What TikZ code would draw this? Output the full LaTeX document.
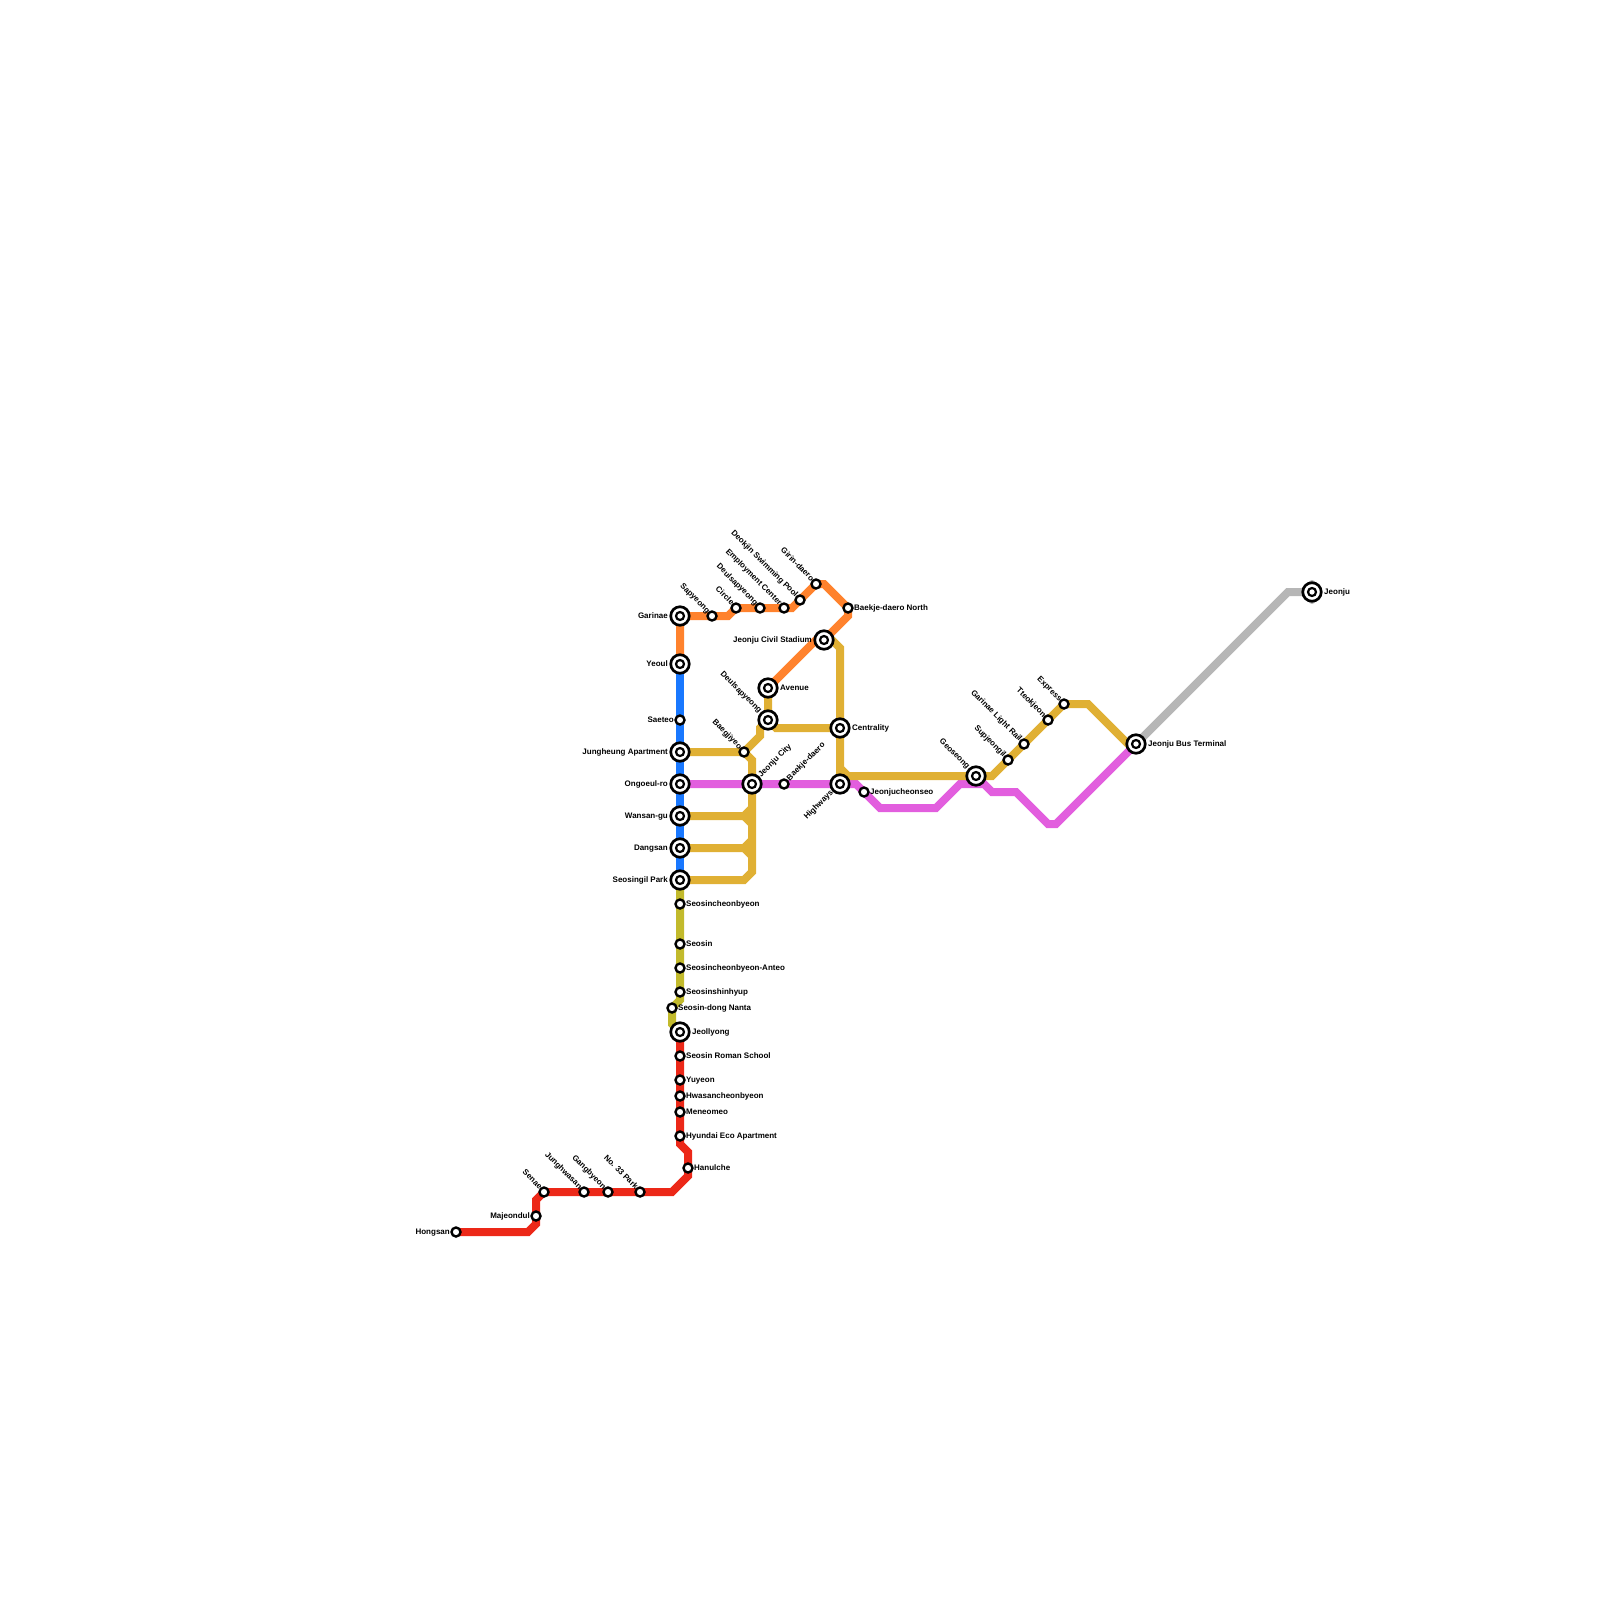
\documentclass[tikz,border=0pt]{standalone}
\usepackage{fontspec}
\setmainfont{Liberation Sans}
\definecolor{lineorange}{RGB}{255, 130, 45}
\definecolor{lineblue}{RGB}{25, 120, 255}
\definecolor{linegold}{RGB}{224, 176, 52}
\definecolor{linepink}{RGB}{226, 94, 222}
\definecolor{lineolive}{RGB}{194, 186, 44}
\definecolor{linered}{RGB}{236, 40, 24}
\definecolor{linegrey}{RGB}{182, 182, 182}
\usetikzlibrary{backgrounds}

\begin{document}
\begin{tikzpicture}[
    x=1pt, y=-1pt,
    every node/.append style={font=\fontsize{8}{9}\selectfont\bfseries},
  ]

  \tikzset{
    metro/.style={line width=8pt, miter limit=10},
    stn-small/.style={
      circle, draw=black, fill=white, line width=2.4pt,
      minimum size=9pt, inner sep=0pt,
    },
    stn-big/.style={
      circle, draw=black, fill=white, line width=2.7pt,
      minimum size=18.5pt, inner sep=0pt,
      path picture={
        \draw[black, line width=2.2pt] (path picture bounding box.center) circle (4pt);
      },
    },
    lbl/.style={inner sep=0pt, text height=6pt, text depth=0pt, text=black},
    lbl-r/.style={lbl, anchor=west, xshift=#1, yshift=1pt},
    lbl-r/.default=6pt,
    lbl-l/.style={lbl, anchor=east, xshift=-#1, yshift=1pt},
    lbl-l/.default=6pt,
    lbl-nw/.style={lbl, anchor=east, rotate=-45, xshift=-#1, yshift=1.2pt},
    lbl-nw/.default=5.2pt,
    lbl-ne/.style={lbl, anchor=west, rotate=45, xshift=#1, yshift=1pt},
    lbl-ne/.default=6pt,
    lbl-sw/.style={lbl, anchor=east, rotate=45, xshift=-#1, yshift=1pt},
    lbl-sw/.default=6pt,
  }

  \useasboundingbox (0,0) rectangle (1600,1600);

  %% ---------------- STATIONS ----------------
  % west trunk
  \node[stn-big] (garinae) at (680,616) {};
  \node[stn-big] (yeoul) at (680,664) {};
  \node[stn-small] (saeteo) at (680,720) {};
  \node[stn-big] (jungheung) at (680,752) {};
  \node[stn-big] (ongoeul) at (680,784) {};
  \node[stn-big] (wansan) at (680,816) {};
  \node[stn-big] (dangsan) at (680,848) {};
  \node[stn-big] (seosingil) at (680,880) {};
  \node[stn-small] (seosincheon) at (680,904) {};
  \node[stn-small] (seosin) at (680,944) {};
  \node[stn-small] (anteo) at (680,968) {};
  \node[stn-small] (shinhyup) at (680,992) {};
  \node[stn-small] (nanta) at (672,1008) {};
  \node[stn-big] (jeollyong) at (680,1032) {};
  \node[stn-small] (roman) at (680,1056) {};
  \node[stn-small] (yuyeon) at (680,1080) {};
  \node[stn-small] (hwasan) at (680,1096) {};
  \node[stn-small] (meneomeo) at (680,1112) {};
  \node[stn-small] (hyundai) at (680,1136) {};
  \node[stn-small] (hanulche) at (688,1168) {};
  % south-west branch
  \node[stn-small] (park33) at (640,1192) {};
  \node[stn-small] (gangbyeon) at (608,1192) {};
  \node[stn-small] (junghwasan) at (584,1192) {};
  \node[stn-small] (senae) at (544,1192) {};
  \node[stn-small] (majeondul) at (536,1216) {};
  \node[stn-small] (hongsan) at (456,1232) {};
  % north loop
  \node[stn-small] (sapyeong) at (712,616) {};
  \node[stn-small] (circle) at (736,608) {};
  \node[stn-small] (deulsa-n) at (760,608) {};
  \node[stn-small] (employment) at (784,608) {};
  \node[stn-small] (deokjin) at (800,600) {};
  \node[stn-small] (girin) at (816,584) {};
  \node[stn-small] (baekje-n) at (848,608) {};
  \node[stn-big] (stadium) at (824,640) {};
  \node[stn-big] (avenue) at (768,688) {};
  \node[stn-big] (deulsa-s) at (768,720) {};
  \node[stn-big] (centrality) at (840,728) {};
  \node[stn-small] (baegjiyeo) at (744,752) {};
  \node[stn-big] (jeonjucity) at (752,784) {};
  \node[stn-small] (baekje) at (784,784) {};
  \node[stn-big] (highways) at (840,784) {};
  % east side
  \node[stn-small] (jeonjucheon) at (864,792) {};
  \node[stn-big] (geoseong) at (976,776) {};
  \node[stn-small] (supjeongil) at (1008,760) {};
  \node[stn-small] (lightrail) at (1024,744) {};
  \node[stn-small] (tteokjeon) at (1048,720) {};
  \node[stn-small] (express) at (1064,704) {};
  \node[stn-big] (terminal) at (1136,744) {};
  \node[stn-big] (jeonju) at (1312,592) {};

  %% ---------------- LABELS ----------------
  \node[lbl-l=12pt] (garinae-l) at (garinae) {Garinae};
  \node[lbl-l=12pt] (yeoul-l) at (yeoul) {Yeoul};
  \node[lbl-l] (saeteo-l) at (saeteo) {Saeteo};
  \node[lbl-l=12pt] (jungheung-l) at (jungheung) {Jungheung Apartment};
  \node[lbl-l=12pt] (ongoeul-l) at (ongoeul) {Ongoeul-ro};
  \node[lbl-l=12pt] (wansan-l) at (wansan) {Wansan-gu};
  \node[lbl-l=12pt] (dangsan-l) at (dangsan) {Dangsan};
  \node[lbl-l=12pt] (seosingil-l) at (seosingil) {Seosingil Park};
  \node[lbl-r] (seosincheon-l) at (seosincheon) {Seosincheonbyeon};
  \node[lbl-r] (seosin-l) at (seosin) {Seosin};
  \node[lbl-r] (anteo-l) at (anteo) {Seosincheonbyeon-Anteo};
  \node[lbl-r] (shinhyup-l) at (shinhyup) {Seosinshinhyup};
  \node[lbl-r] (nanta-l) at (nanta) {Seosin-dong Nanta};
  \node[lbl-r=12pt] (jeollyong-l) at (jeollyong) {Jeollyong};
  \node[lbl-r] (roman-l) at (roman) {Seosin Roman School};
  \node[lbl-r] (yuyeon-l) at (yuyeon) {Yuyeon};
  \node[lbl-r] (hwasan-l) at (hwasan) {Hwasancheonbyeon};
  \node[lbl-r] (meneomeo-l) at (meneomeo) {Meneomeo};
  \node[lbl-r] (hyundai-l) at (hyundai) {Hyundai Eco Apartment};
  \node[lbl-r] (hanulche-l) at (hanulche) {Hanulche};
  \node[lbl-nw] (park33-l) at (park33) {No. 33 Park};
  \node[lbl-nw] (gangbyeon-l) at (gangbyeon) {Gangbyeon};
  \node[lbl-nw] (junghwasan-l) at (junghwasan) {Junghwasan};
  \node[lbl-nw] (senae-l) at (senae) {Senae};
  \node[lbl-l] (majeondul-l) at (majeondul) {Majeondul};
  \node[lbl-l] (hongsan-l) at (hongsan) {Hongsan};
  \node[lbl-nw] (sapyeong-l) at (sapyeong) {Sapyeong};
  \node[lbl-nw] (circle-l) at (circle) {Circle};
  \node[lbl-nw] (deulsa-n-l) at (deulsa-n) {Deulsapyeong};
  \node[lbl-nw] (employment-l) at (employment) {Employment Center};
  \node[lbl-nw] (deokjin-l) at (deokjin) {Deokjin Swimming Pool};
  \node[lbl-nw] (girin-l) at (girin) {Girin-daero};
  \node[lbl-r] (baekje-n-l) at (baekje-n) {Baekje-daero North};
  \node[lbl-l=12pt] (stadium-l) at (stadium) {Jeonju Civil Stadium};
  \node[lbl-r=12pt] (avenue-l) at (avenue) {Avenue};
  \node[lbl-nw=11pt] (deulsa-s-l) at (deulsa-s) {Deulsapyeong};
  \node[lbl-r=12pt] (centrality-l) at (centrality) {Centrality};
  \node[lbl-nw] (baegjiyeo-l) at (baegjiyeo) {Baegjiyeo};
  \node[lbl-ne=11pt] (jeonjucity-l) at (jeonjucity) {Jeonju City};
  \node[lbl-ne] (baekje-l) at (baekje) {Baekje-daero};
  \node[lbl-sw=11pt] (highways-l) at (highways) {Highways};
  \node[lbl-r] (jeonjucheon-l) at (jeonjucheon) {Jeonjucheonseo};
  \node[lbl-nw=11pt] (geoseong-l) at (geoseong) {Geoseong};
  \node[lbl-nw] (supjeongil-l) at (supjeongil) {Supjeongil};
  \node[lbl-nw] (lightrail-l) at (lightrail) {Garinae Light Rail};
  \node[lbl-nw] (tteokjeon-l) at (tteokjeon) {Tteokjeon};
  \node[lbl-nw] (express-l) at (express) {Express};
  \node[lbl-r=12pt] (terminal-l) at (terminal) {Jeonju Bus Terminal};
  \node[lbl-r=12pt] (jeonju-l) at (jeonju) {Jeonju};

  %% ---------------- BENDS ----------------
  \coordinate (or-a) at (728,616);
  \coordinate (or-b) at (736,608);
  \coordinate (or-c) at (792,608);
  \coordinate (or-d) at (816,584);
  \coordinate (or-e) at (824,584);
  \coordinate (or-f) at (848,616);
  \coordinate (or-g) at (816,640);
  \coordinate (ol-a) at (680,1000);
  \coordinate (ol-b) at (672,1024);
  \coordinate (re-a) at (680,1144);
  \coordinate (re-b) at (688,1152);
  \coordinate (re-c) at (688,1176);
  \coordinate (re-d) at (672,1192);
  \coordinate (re-e) at (536,1200);
  \coordinate (re-f) at (536,1224);
  \coordinate (re-g) at (528,1232);
  \coordinate (go-a) at (752,760);
  \coordinate (go-b) at (752,872);
  \coordinate (go-c) at (744,880);
  \coordinate (go-d) at (744,816);
  \coordinate (go-e) at (752,808);
  \coordinate (go-f) at (752,824);
  \coordinate (go-g) at (744,848);
  \coordinate (go-h) at (752,840);
  \coordinate (go-i) at (752,856);
  \coordinate (go-j) at (760,736);
  \coordinate (go-k) at (760,728);
  \coordinate (go-l) at (776,728);
  \coordinate (go-m) at (832,640);
  \coordinate (go-n) at (840,648);
  \coordinate (go-o) at (840,768);
  \coordinate (go-p) at (848,776);
  \coordinate (go-q) at (992,776);
  \coordinate (go-r) at (1088,704);
  \coordinate (go-s) at (1128,744);
  \coordinate (pi-a) at (856,784);
  \coordinate (pi-b) at (880,808);
  \coordinate (pi-c) at (936,808);
  \coordinate (pi-d) at (960,784);
  \coordinate (pi-e) at (984,784);
  \coordinate (pi-f) at (992,792);
  \coordinate (pi-g) at (1016,792);
  \coordinate (pi-h) at (1048,824);
  \coordinate (pi-i) at (1056,824);
  \coordinate (gr-a) at (1288,592);
  \coordinate (gr-b) at (1312,584);
  \coordinate (gr-c) at (1312,600);

  %% ---------------- LINES ----------------
  \begin{scope}[on background layer]
    % grey
    \draw[metro, linegrey] (terminal.center) -- (gr-a) -- (jeonju.center);
    \draw[metro, linegrey, line cap=round] (gr-b) -- (gr-c);
    % pink
    \draw[metro, linepink] (ongoeul.center) -- (pi-a) -- (pi-b) -- (pi-c) -- (pi-d)
      -- (pi-e) -- (pi-f) -- (pi-g) -- (pi-h) -- (pi-i) -- (terminal.center);
    % gold
    \draw[metro, linegold] (jungheung.center) -- (baegjiyeo.center) -- (go-a) -- (go-b)
      -- (go-c) -- (seosingil.center);
    \draw[metro, linegold] (go-e) -- (go-d) -- (wansan.center);
    \draw[metro, linegold] (go-f) -- (go-d);
    \draw[metro, linegold] (go-h) -- (go-g) -- (dangsan.center);
    \draw[metro, linegold] (go-i) -- (go-g);
    \draw[metro, linegold] (baegjiyeo.center) -- (go-j) -- (go-k) -- (deulsa-s.center);
    \draw[metro, linegold] (avenue.center) -- (deulsa-s.center) -- (go-l) -- (centrality.center);
    \draw[metro, linegold] (stadium.center) -- (go-m) -- (go-n) -- (go-o) -- (go-p)
      -- (go-q) -- (express.center) -- (go-r) -- (go-s) -- (terminal.center);
    \draw[metro, linegold] (go-o) -- (highways.center);
    % orange
    \draw[metro, lineorange] (yeoul.center) -- (garinae.center) -- (or-a) -- (or-b) -- (or-c)
      -- (or-d) -- (or-e) -- (baekje-n.center) -- (or-f) -- (stadium.center) -- (or-g)
      -- (avenue.center);
    % blue
    \draw[metro, lineblue] (yeoul.center) -- (seosingil.center);
    % olive
    \draw[metro, lineolive] (seosingil.center) -- (ol-a) -- (nanta.center) -- (ol-b)
      -- (jeollyong.center);
    % red
    \draw[metro, linered] (jeollyong.center) -- (re-a) -- (re-b) -- (re-c) -- (re-d)
      -- (senae.center) -- (re-e) -- (re-f) -- (re-g) -- (hongsan.center);
  \end{scope}

\end{tikzpicture}
\end{document}
